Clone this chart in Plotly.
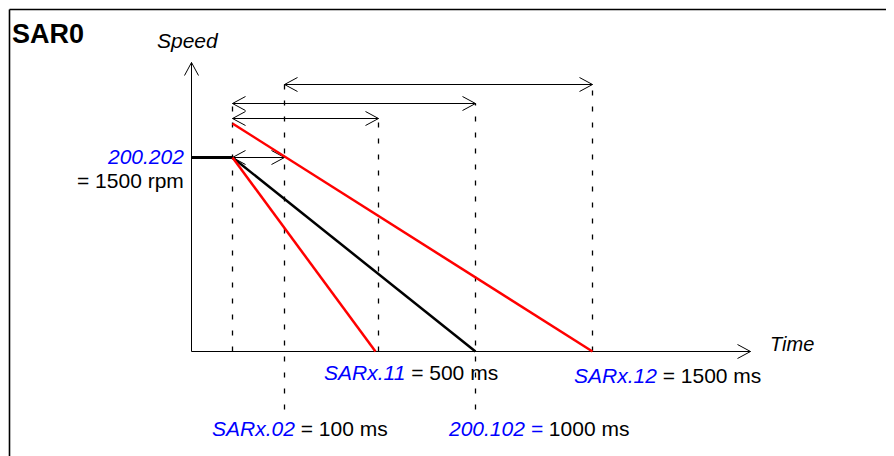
import plotly.graph_objects as go

# Schematic positions along the time axis (diagram units, origin at the speed axis)
t_start = 41        # ramp start
t_100ms = 93        # SARx.02 = 100 ms
t_500ms = 187       # SARx.11 = 500 ms
t_1000ms = 284      # 200.102 = 1000 ms
t_1500ms = 401      # SARx.12 = 1500 ms
t_red_fast_end = 184

# Schematic speed levels
speed_set = 194     # 200.202 = 1500 rpm
speed_red_top = 228

# Dashed guide lines: (time, bottom, top)
guides = [
    (t_start, 0, 251),
    (t_100ms, -58, 267),
    (t_500ms, 0, 233),
    (t_1000ms, -58, 248),
    (t_1500ms, 0, 267),
]

# Double-headed dimension arrows: (from, to, level)
dims = [
    (t_100ms, t_1500ms, 267),
    (t_start, t_1000ms, 248),
    (t_start, t_500ms, 233),
    (t_start, t_100ms, speed_set),
]

axis_x_end = 559
axis_y_end = 289

FONT = "Liberation Sans, Arial, sans-serif"
BLUE = "#0000ff"
RED = "#ff0000"

fig = go.Figure()


def line(xs, ys, color="black", width=1, dash=None):
    fig.add_trace(go.Scatter(x=xs, y=ys, mode="lines", hoverinfo="skip",
                             line=dict(color=color, width=width, dash=dash)))


def chevron(x, y, dx, dy, size=13, spread=7):
    # open V arrow head with its tip at (x, y) pointing along (dx, dy)
    px, py = -dy, dx
    line([x - size * dx + spread * px, x, x - size * dx - spread * px],
         [y - size * dy + spread * py, y, y - size * dy - spread * py])


# axes
line([0, 0], [0, axis_y_end])
chevron(0, axis_y_end, 0, 1)
line([0, axis_x_end], [0, 0])
chevron(axis_x_end, 0, 1, 0)

# dashed guides
for t, lo, hi in guides:
    line([t, t], [lo, hi], width=1.3, dash="5px,11px")

# dimension arrows
for a, b, lvl in dims:
    line([a, b], [lvl, lvl])
    chevron(a, lvl, -1, 0)
    chevron(b, lvl, 1, 0)

# speed profiles
line([0, t_start], [speed_set, speed_set], width=3)
line([t_start, t_1000ms], [speed_set, 0], width=2.5)
line([t_start, t_red_fast_end], [speed_set, 0], color=RED, width=2.5)
line([t_start, t_1500ms], [speed_red_top, 0], color=RED, width=2.5)

# frame (top and left edges)
line([-182, 703], [342, 342], width=1.6)
line([-182, -182], [342, -113], width=1.6)

texts = [
    (-182, 318, "<b>SAR0</b>", "left", 27),
    (-4, 311, "<i>Speed</i>", "center", 21),
    (576, 8, "<i>Time</i>", "left", 20),
    (-6, 195, f"<span style='color:{BLUE}'><i>200.202</i></span>", "right", 21),
    (-6, 171, "= 1500 rpm", "right", 21),
    (130, -21, f"<span style='color:{BLUE}'><i>SARx.11</i></span> = 500 ms", "left", 21),
    (380, -24, f"<span style='color:{BLUE}'><i>SARx.12</i></span> = 1500 ms", "left", 21),
    (18, -77, f"<span style='color:{BLUE}'><i>SARx.02</i></span> = 100 ms", "left", 21),
    (254, -77, f"<span style='color:{BLUE}'><i>200.102 =</i></span> 1000 ms", "left", 21),
]
for x, y, txt, anchor, size in texts:
    fig.add_annotation(x=x, y=y, text=txt, showarrow=False, xanchor=anchor,
                       yanchor="middle", font=dict(family=FONT, size=size, color="black"))

# the page body adds an 8 px margin, so the ranges are shifted to compensate
fig.update_layout(
    width=894, height=456,
    margin=dict(l=0, r=0, t=0, b=0),
    paper_bgcolor="white", plot_bgcolor="white",
    showlegend=False,
    xaxis=dict(range=[-183.5, 710.5], visible=False, fixedrange=True),
    yaxis=dict(range=[-112.5, 343.5], visible=False, fixedrange=True),
)

fig.write_html("out.html")
